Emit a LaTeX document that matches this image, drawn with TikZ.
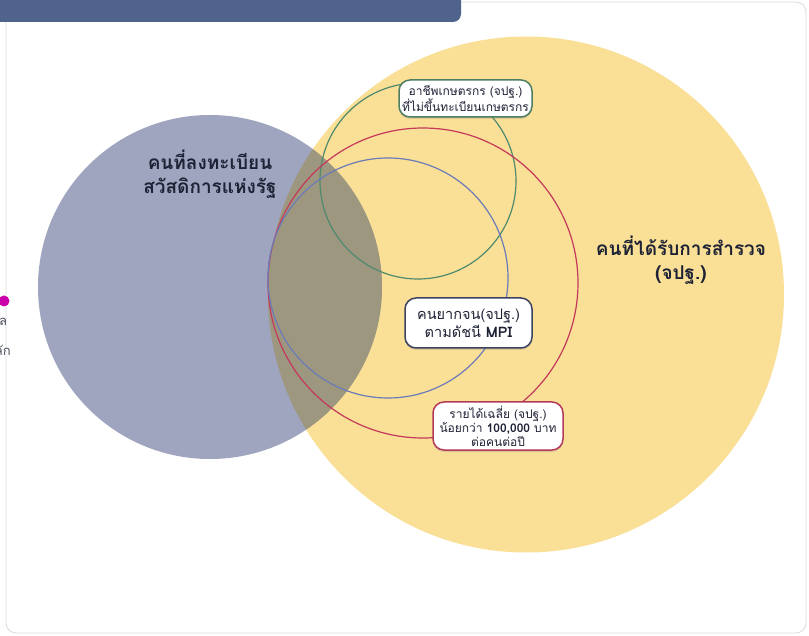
\documentclass[tikz,border=0pt]{standalone}
\usepackage{fontspec}
\setmainfont{Loma}[Script=Thai]
\usetikzlibrary{shadows}
\definecolor{bannerblue}{HTML}{50638C}
\definecolor{framegray}{HTML}{DCDCDC}
\definecolor{yel}{HTML}{FADF96}
\definecolor{grayc}{HTML}{6D759D}
\definecolor{tint}{HTML}{9E9666}
\definecolor{cgreen}{HTML}{4E8A6E}
\definecolor{cred}{HTML}{C4385C}
\definecolor{cblue}{HTML}{6A7BB8}
\definecolor{lgreen}{HTML}{4E7D62}
\definecolor{lnavy}{HTML}{3B4260}
\definecolor{lred}{HTML}{B33A5A}
\definecolor{txt}{HTML}{1E2235}
\definecolor{magent}{HTML}{CC00AA}
\tikzset{
  ring/.style={line width=1.2pt},
  lbl/.style={fill=white, rounded corners=11pt, line width=1.5pt, align=center,
    text=txt, inner sep=2pt,
    drop shadow={opacity=0.25, shadow xshift=0pt, shadow yshift=-2pt}},
  smallfont/.style={font=\fontsize{12}{14}\selectfont},
  midfont/.style={font=\fontsize{14.5}{18}\selectfont},
  bigtext/.style={align=center, text=txt, font=\fontsize{19}{24}\selectfont\bfseries},
  edgetext/.style={text=txt!80, font=\fontsize{13}{14}\selectfont, inner sep=0pt}
}
\begin{document}
\begin{tikzpicture}[x=1pt,y=-1pt]
\useasboundingbox (0,0) rectangle (809,636);
\fill[white] (0,0) rectangle (809,636);
% frame
\draw[framegray, line width=0.8pt, rounded corners=10pt] (6,2) rectangle (806,633);
% banner
\fill[bannerblue, rounded corners=8pt] (-20,-20) rectangle (461,22);
% left edge legend fragments
\fill[magent] (4,301) circle (5.5pt);
\node[edgetext, anchor=west] (lega) at (-1,322) {ล};
\node[edgetext, anchor=east] (legb) at (11,350) {ลัก};
% circles
\fill[yel] (526,294.5) circle (258pt);
\fill[grayc, opacity=0.65] (210,287) circle (172pt);
\begin{scope}
  \clip (526,294.5) circle (258pt);
  \fill[tint, opacity=0.5] (210,287) circle (172pt);
\end{scope}
\draw[ring, cgreen] (418,181) circle (98pt);
\draw[ring, cred] (423,283) circle (155pt);
\draw[ring, cblue] (388,278) circle (120pt);
% big labels
\node[bigtext] (reg) at (210,174) {คนที่ลงทะเบียน\\สวัสดิการแห่งรัฐ};
\node[bigtext] (surv) at (681,260) {คนที่ได้รับการสำรวจ\\(จปฐ.)};
% small labels
\node[lbl, smallfont, draw=lgreen, minimum width=133pt, minimum height=37pt] (agri) at (465.5,98.5)
  {อาชีพเกษตรกร (จปฐ.)\\ที่ไม่ขึ้นทะเบียนเกษตรกร};
\node[lbl, midfont, draw=lnavy, minimum width=127pt, minimum height=50pt] (mpi) at (468.5,323)
  {คนยากจน(จปฐ.)\\ตามดัชนี \textbf{MPI}};
\node[lbl, smallfont, draw=lred, minimum width=130pt, minimum height=48pt] (inc) at (498,426)
  {รายได้เฉลี่ย (จปฐ.)\\น้อยกว่า \textbf{100,000} บาท\\ต่อคนต่อปี};
\end{tikzpicture}
\end{document}
